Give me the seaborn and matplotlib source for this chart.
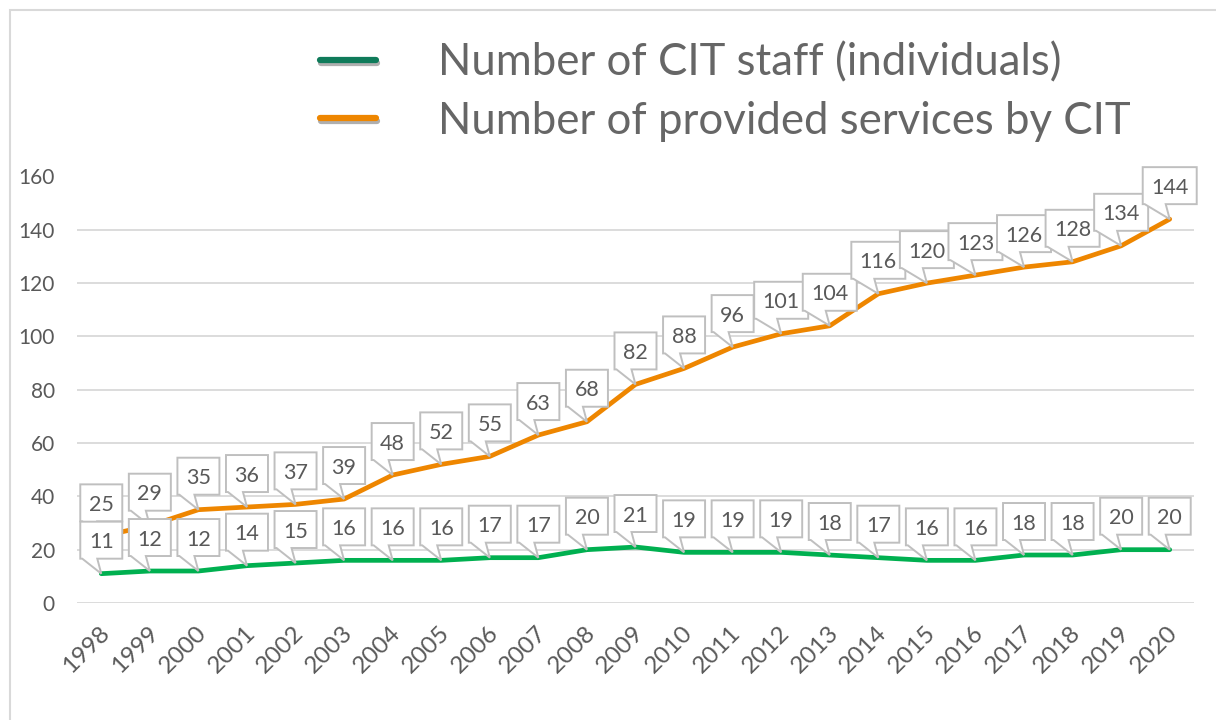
import numpy as np
import pandas as pd
import matplotlib
matplotlib.use("Agg")
import matplotlib.pyplot as plt
import matplotlib.transforms as mtransforms
import matplotlib.patheffects as pe
from matplotlib.patches import Polygon, Rectangle
from matplotlib.lines import Line2D
import seaborn as sns

years = [str(y) for y in range(1998, 2021)]
staff = [11, 12, 12, 14, 15, 16, 16, 16, 17, 17, 20, 21, 19, 19, 19, 18, 17, 16, 16, 18, 18, 20, 20]
services = [25, 29, 35, 36, 37, 39, 48, 52, 55, 63, 68, 82, 88, 96, 101, 104, 116, 120, 123, 126, 128, 134, 144]
labels = ["Number of CIT staff (individuals)", "Number of provided services by CIT"]
yticks = [0, 20, 40, 60, 80, 100, 120, 140, 160]

GREEN = "#00b050"
GREEN_LEG = "#0f7b5a"
ORANGE = "#ee8600"
TXT = "#595959"
GRID = "#d9d9d9"

sns.set_theme(style="white")
plt.rcParams["font.family"] = ["Lato", "DejaVu Sans"]

W, H, DPI = 1216, 720, 100
fig = plt.figure(figsize=(W / DPI, H / DPI), dpi=DPI)
ax = fig.add_axes([77 / W, 1 - 603 / H, (1194 - 77) / W, (603 - 176.5) / H])

df = pd.DataFrame({"year": years, "staff": staff, "services": services})
sns.lineplot(data=df, x="year", y="services", ax=ax, color=ORANGE, lw=3.4,
             solid_capstyle="round", zorder=2, sort=False)
sns.lineplot(data=df, x="year", y="staff", ax=ax, color=GREEN, lw=3.4,
             solid_capstyle="round", zorder=2, sort=False)

ax.set_xlim(-0.5, len(years) - 0.5)
ax.set_ylim(0, 160)
ax.set_yticks(yticks)
ax.set_xlabel("")
ax.set_ylabel("")
for s in ax.spines.values():
    s.set_visible(False)
ax.grid(axis="y", color=GRID, lw=1.3)
ax.grid(axis="x", visible=False)
ax.set_axisbelow(True)

ax.tick_params(axis="y", length=0, pad=16, labelsize=15, labelcolor=TXT)
ax.tick_params(axis="x", length=0, pad=19, labelsize=17.5, labelcolor=TXT)
ax.set_xticks(range(len(years)))
ax.set_xticklabels(years)
shift = mtransforms.ScaledTranslation(5 / DPI, 0, fig.dpi_scale_trans)
for lab in ax.get_xticklabels():
    lab.set_rotation(45)
    lab.set_ha("right")
    lab.set_va("center")
    lab.set_rotation_mode("anchor")
    lab.set_transform(lab.get_transform() + shift)


def callout(xi, val, z):
    txt = str(val)
    w = 18 + 12 * len(txt)
    h = 37
    g = 15
    L, R, B, T = -w / 2, w / 2, g, g + h
    verts = np.array([(L, B), (L, T), (R, T), (R, B), (-4, B), (0, 0), (L + 2, B)]) / DPI
    tr = fig.dpi_scale_trans + mtransforms.ScaledTranslation(xi, val, ax.transData)
    poly = Polygon(verts, closed=True, transform=tr, facecolor="white",
                   edgecolor="#bfbfbf", lw=1.4, zorder=z, clip_on=False)
    ax.add_patch(poly)
    ax.text(0, (g + h / 2) / DPI, txt, transform=tr, ha="center", va="center_baseline",
            fontsize=15.5, color=TXT, zorder=z + 0.5, clip_on=False)


for i, v in enumerate(services):
    callout(i, v, 4)
for i, v in enumerate(staff):
    callout(i, v, 6)

# legend
handles = [
    Line2D([], [], color=GREEN_LEG, lw=4.5,
           path_effects=[pe.SimpleLineShadow(offset=(1, -2), alpha=0.35), pe.Normal()]),
    Line2D([], [], color=ORANGE, lw=4.5,
           path_effects=[pe.SimpleLineShadow(offset=(1, -2), alpha=0.35), pe.Normal()]),
]
leg = fig.legend(handles, labels, loc="upper left",
                 bbox_to_anchor=(320 / W, 1 - 42 / H), frameon=False,
                 fontsize=31.5, handlelength=1.28, handletextpad=1.42,
                 labelspacing=0.4, borderpad=0, borderaxespad=0, labelcolor="#666666")

# chart border
fig.patches.append(Rectangle((10 / W, -0.1), 1.2, 1.1 - 10 / H, transform=fig.transFigure,
                             fill=False, edgecolor=GRID, lw=1.5, zorder=0))

fig.savefig("out.png", dpi=DPI, facecolor="white")
